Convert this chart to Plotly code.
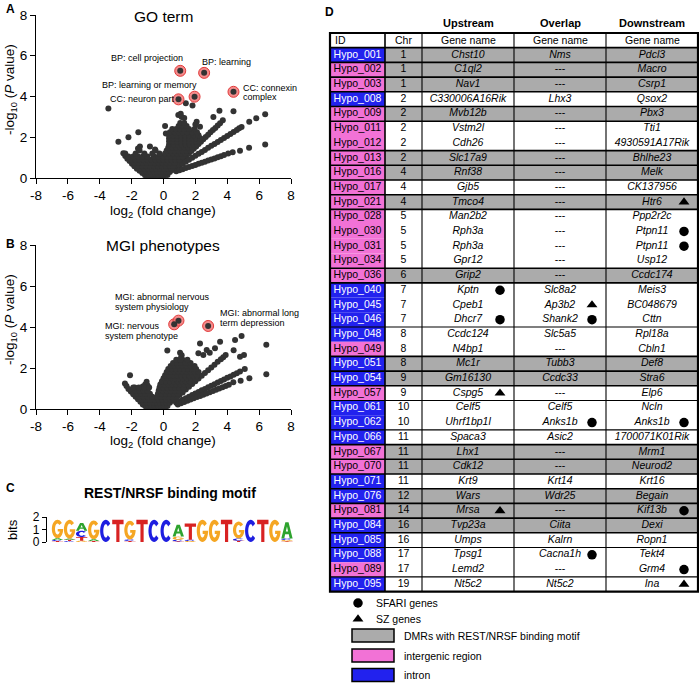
import math
import plotly.graph_objects as go

W, H = 699, 683
FONT = "Arial, 'Liberation Sans', Helvetica, sans-serif"

# ---------------- Panel A: GO term volcano ----------------
go_points = [
    (-3.46, 3.41), (-2.83, 1.78), (-2.2, 2.0), (-1.58, 2.24), (0.1, 2.55), (0.15, 2.18),
    (1.4, 3.67), (1.82, 3.56), (3.51, 3.3), (4.39, 3.27), (3.13, 3.0), (6.38, 3.13),
    (5.82, 2.93), (5.38, 2.76), (6.38, 1.64), (5.37, 1.49), (4.8, 1.34), (4.34, 1.26),
    (0.93, 3.09), (1.08, 3.15), (1.14, 3.0), (1.3, 2.95), (2.08, 2.76), (2.29, 2.52),
    (2.0, 2.62), (-1.48, 1.54), (-0.85, 1.54), (-0.53, 1.4), (-1.6, 1.45),
    (-2.52, 1.21), (-2.4, 1.08), (-2.27, 0.95), (-2.13, 0.83), (-1.98, 0.7), (-1.83, 0.58),
    (-1.67, 0.46), (-1.5, 0.35), (-1.33, 0.24), (-1.16, 0.14),
    (0.55, 0.42), (0.7, 0.53), (0.85, 0.65), (1.0, 0.76), (1.15, 0.87), (1.3, 0.99),
    (1.45, 1.1), (1.6, 1.21), (1.75, 1.33), (1.9, 1.44), (2.05, 1.55), (2.2, 1.67),
    (2.35, 1.78), (2.5, 1.9), (2.65, 2.01), (2.8, 2.12), (2.95, 2.24), (3.1, 2.35),
    (3.25, 2.46), (3.4, 2.58), (3.55, 2.69), (3.72, 2.83),
    (0.6, 0.4), (0.8, 0.5), (1.0, 0.6), (1.2, 0.7), (1.4, 0.8), (1.6, 0.9), (1.8, 0.99),
    (2.0, 1.09), (2.2, 1.19), (2.4, 1.28), (2.6, 1.38), (2.8, 1.48), (3.0, 1.58),
    (3.2, 1.67), (3.4, 1.77), (3.6, 1.87), (3.8, 1.96), (4.0, 2.06), (4.2, 2.16),
    (4.4, 2.26), (4.6, 2.36), (4.75, 2.44), (4.9, 2.5),
    (0.8, 0.33), (1.0, 0.38), (1.2, 0.43), (1.4, 0.49), (1.6, 0.54), (1.8, 0.59),
    (2.0, 0.64), (2.2, 0.7), (2.4, 0.75), (2.6, 0.8), (2.8, 0.86), (3.0, 0.91),
    (3.2, 0.96), (3.4, 1.02), (3.6, 1.07), (3.8, 1.13), (4.06, 1.2),
]
go_blob_rows = [
    (0.03, [-1.0, -0.8, -0.6, -0.4, -0.2, 0.0]),
    (0.15, [-1.1, -0.9, -0.7, -0.5, -0.3, -0.1, 0.1, 0.25]),
    (0.3, [-1.25, -1.05, -0.85, -0.6, -0.4, -0.2, 0.0, 0.2, 0.4]),
    (0.45, [-1.4, -1.2, -0.95, -0.7, -0.45, -0.2, 0.05, 0.3, 0.5]),
    (0.6, [-1.6, -1.35, -1.1, -0.85, -0.6, -0.35, -0.1, 0.15, 0.4, 0.6]),
    (0.75, [-1.8, -1.55, -1.3, -1.05, -0.8, -0.55, -0.3, -0.05, 0.2, 0.45, 0.7]),
    (0.9, [-2.0, -1.75, -1.5, -1.25, -1.0, -0.75, -0.5, -0.25, 0.0, 0.25, 0.5, 0.75, 1.0]),
    (1.05, [-2.2, -1.9, -1.6, -1.3, -1.0, -0.6, -0.3, 0.0, 0.25, 0.5, 0.75, 1.0, 1.2]),
    (1.2, [-2.4, -1.75, -1.2, -0.7, -0.25, 0.1, 0.35, 0.6, 0.85, 1.1, 1.35]),
    (1.35, [-1.5, -0.5, 0.2, 0.45, 0.7, 0.95, 1.2, 1.45, 1.7]),
    (1.5, [0.3, 0.55, 0.8, 1.05, 1.3, 1.55, 1.8]),
    (1.65, [0.35, 0.65, 0.9, 1.15, 1.4, 1.65, 1.9, 2.1]),
    (1.8, [0.35, 0.6, 0.85, 1.1, 1.35, 1.6, 1.85, 2.05, 2.25]),
    (1.95, [0.35, 0.6, 0.85, 1.1, 1.35, 1.6, 1.85, 2.05, 2.3]),
    (2.1, [0.35, 0.6, 0.85, 1.1, 1.35, 1.6, 1.9, 2.2]),
    (2.25, [0.4, 0.7, 0.95, 1.2, 1.5, 1.8, 2.1]),
    (2.4, [0.55, 0.8, 1.05, 1.3, 1.6, 1.95]),
    (2.55, [0.95, 1.2, 1.45]),
    (2.7, [1.05, 1.3]),
]
go_hl_x = [1.05, 2.55, 1.95, 0.94, 4.39]
go_hl_y = [5.26, 5.16, 3.99, 3.86, 4.23]

# ---------------- Panel B: MGI phenotypes volcano ----------------
mgi_points = [
    (-2.1, 1.65), (0.24, 2.85), (2.29, 3.2), (3.55, 3.28), (4.49, 3.37), (4.9, 3.56),
    (6.45, 3.13), (3.23, 2.96), (2.71, 2.88), (2.19, 2.72), (2.5, 2.63), (4.4, 2.87),
    (4.8, 2.55), (5.05, 2.63), (6.45, 1.69), (5.39, 1.5), (4.84, 1.38), (4.38, 1.3),
    (1.04, 2.75), (1.14, 2.62), (1.1, 2.5), (1.2, 2.4), (2.9, 2.75),
    (-2.42, 1.25), (-2.32, 1.12), (-2.2, 0.98), (-2.05, 0.85), (-1.9, 0.72), (-1.75, 0.6),
    (-1.6, 0.47), (-1.45, 0.35), (-1.3, 0.22),
    (-1.06, 1.33), (-1.15, 1.2), (-1.3, 1.1), (-1.0, 1.15), (-1.8, 1.05), (-1.6, 0.9),
    (-1.45, 0.8), (-1.2, 0.95),
    (0.6, 0.4), (0.8, 0.54), (1.0, 0.68), (1.2, 0.81), (1.4, 0.95), (1.6, 1.08),
    (1.8, 1.22), (2.0, 1.35), (2.2, 1.49), (2.4, 1.62), (2.6, 1.76), (2.8, 1.89),
    (3.0, 2.03), (3.2, 2.16), (3.4, 2.3), (3.6, 2.43), (3.75, 2.53), (3.9, 2.63),
    (0.8, 0.3), (1.0, 0.38), (1.2, 0.45), (1.4, 0.53), (1.6, 0.6), (1.8, 0.68),
    (2.0, 0.76), (2.2, 0.83), (2.4, 0.91), (2.6, 0.98), (2.8, 1.06), (3.0, 1.14),
    (3.2, 1.21), (3.4, 1.29), (3.6, 1.36), (3.8, 1.44), (4.0, 1.52), (4.2, 1.59),
    (4.4, 1.67), (4.6, 1.75), (4.8, 1.83), (5.1, 1.95),
    (0.9, 0.22), (1.1, 0.28), (1.3, 0.34), (1.5, 0.4), (1.7, 0.46), (1.9, 0.52),
    (2.1, 0.58), (2.3, 0.64), (2.5, 0.7), (2.7, 0.76), (2.9, 0.82), (3.1, 0.88),
    (3.3, 0.94), (3.5, 1.0), (3.7, 1.06), (3.9, 1.12), (4.1, 1.18),
]
mgi_blob_rows = [
    (0.03, [-1.05, -0.85, -0.65, -0.45, -0.25, -0.05, 0.1]),
    (0.15, [-1.15, -0.95, -0.75, -0.55, -0.35, -0.15, 0.05, 0.25]),
    (0.3, [-1.25, -1.05, -0.85, -0.6, -0.4, -0.2, 0.0, 0.2, 0.4]),
    (0.45, [-1.35, -1.1, -0.85, -0.55, -0.3, -0.05, 0.2, 0.45, 0.65]),
    (0.6, [-1.5, -1.25, -1.0, -0.7, -0.4, -0.15, 0.1, 0.35, 0.6, 0.85]),
    (0.75, [-1.65, -1.4, -1.15, -0.85, -0.35, -0.1, 0.15, 0.4, 0.65, 0.9]),
    (0.9, [-1.75, -1.5, -1.25, -1.0, -0.3, -0.05, 0.2, 0.45, 0.7, 0.95, 1.2]),
    (1.05, [-1.9, -1.55, -1.2, -0.9, -0.25, 0.0, 0.25, 0.5, 0.75, 1.0, 1.25]),
    (1.2, [-0.2, 0.05, 0.3, 0.55, 0.8, 1.05, 1.3, 1.55]),
    (1.35, [-0.1, 0.15, 0.4, 0.65, 0.9, 1.15, 1.4, 1.65]),
    (1.5, [0.0, 0.25, 0.5, 0.75, 1.0, 1.25, 1.5, 1.75, 2.0]),
    (1.65, [0.1, 0.35, 0.6, 0.85, 1.1, 1.35, 1.6, 1.85, 2.1]),
    (1.8, [0.2, 0.45, 0.7, 0.95, 1.2, 1.45, 1.7, 1.95, 2.2]),
    (1.95, [0.3, 0.55, 0.8, 1.05, 1.3, 1.55, 1.8, 2.05]),
    (2.1, [0.45, 0.7, 0.95, 1.2, 1.45, 1.7, 1.95]),
    (2.25, [0.6, 0.85, 1.1, 1.4, 1.7]),
    (2.4, [0.8, 1.05, 1.5]),
]
mgi_hl_x = [0.67, 0.94, 2.8]
mgi_hl_y = [4.13, 4.31, 4.05]

x_tick_vals = [-8, -6, -4, -2, 0, 2, 4, 6, 8]
x_tick_text = ["-8", "-6", "-4", "-2", "0", "2", "4", "6", "8"]
y_tick_vals = [0, 2, 4, 6, 8]

# ---------------- Panel C: REST/NRSF motif (bits, bottom -> top) ----------------
logo_stacks = [
    [("T", 0.07), ("C", 0.09), ("A", 0.14), ("G", 1.48)],
    [("C", 0.07), ("T", 0.1), ("A", 0.1), ("G", 1.5)],
    [("G", 0.1), ("T", 0.3), ("C", 0.5), ("A", 0.62)],
    [("T", 0.08), ("A", 0.14), ("G", 1.5)],
    [("C", 1.78)],
    [("T", 1.78)],
    [("T", 0.08), ("C", 0.12), ("G", 1.5)],
    [("T", 1.78)],
    [("C", 1.78)],
    [("C", 1.78)],
    [("T", 0.06), ("C", 0.12), ("G", 0.25), ("A", 0.95)],
    [("G", 0.08), ("C", 0.1), ("T", 1.3)],
    [("G", 1.78)],
    [("G", 1.78)],
    [("T", 1.78)],
    [("T", 0.1), ("C", 0.18), ("G", 1.35)],
    [("C", 1.78)],
    [("T", 1.78)],
    [("G", 1.78)],
    [("T", 0.06), ("G", 0.1), ("C", 0.12), ("A", 1.3)],
]
logo_tick_vals = [0, 1, 2]

# ---------------- Panel D: table ----------------
ids = ["Hypo_001", "Hypo_002", "Hypo_003", "Hypo_008", "Hypo_009", "Hypo_011", "Hypo_012",
       "Hypo_013", "Hypo_016", "Hypo_017", "Hypo_021", "Hypo_028", "Hypo_030", "Hypo_031",
       "Hypo_034", "Hypo_036", "Hypo_040", "Hypo_045", "Hypo_046", "Hypo_048", "Hypo_049",
       "Hypo_051", "Hypo_054", "Hypo_057", "Hypo_061", "Hypo_062", "Hypo_066", "Hypo_067",
       "Hypo_070", "Hypo_071", "Hypo_076", "Hypo_081", "Hypo_084", "Hypo_085", "Hypo_088",
       "Hypo_089", "Hypo_095"]
chroms = ["1", "1", "1", "2", "2", "2", "2", "2", "4", "4", "4", "5", "5", "5", "5", "6",
          "7", "7", "7", "8", "8", "8", "9", "9", "10", "10", "11", "11", "11", "11", "12",
          "14", "16", "16", "17", "17", "19"]
upstream = ["Chst10", "C1ql2", "Nav1", "C330006A16Rik", "Mvb12b", "Vstm2l", "Cdh26",
            "Slc17a9", "Rnf38", "Gjb5", "Tmco4", "Man2b2", "Rph3a", "Rph3a", "Gpr12", "Grip2",
            "Kptn", "Cpeb1", "Dhcr7", "Ccdc124", "N4bp1", "Mc1r", "Gm16130", "Cspg5", "Celf5",
            "Uhrf1bp1l", "Spaca3", "Lhx1", "Cdk12", "Krt9", "Wars", "Mrsa", "Tvp23a", "Umps",
            "Tpsg1", "Lemd2", "Nt5c2"]
overlap = ["Nms", "---", "---", "Lhx3", "---", "---", "---", "---", "---", "---", "---", "---",
           "---", "---", "---", "---", "Slc8a2", "Ap3b2", "Shank2", "Slc5a5", "---", "Tubb3",
           "Ccdc33", "---", "Celf5", "Anks1b", "Asic2", "---", "---", "Krt14", "Wdr25", "---",
           "Ciita", "Kalrn", "Cacna1h", "---", "Nt5c2"]
downstream = ["Pdcl3", "Macro", "Csrp1", "Qsox2", "Pbx3", "Tti1", "4930591A17Rik", "Bhlhe23",
              "Melk", "CK137956", "Htr6", "Ppp2r2c", "Ptpn11", "Ptpn11", "Usp12", "Ccdc174",
              "Meis3", "BC048679", "Cttn", "Rpl18a", "Cbln1", "Def8", "Stra6", "Elp6", "Ncln",
              "Anks1b", "1700071K01Rik", "Mrm1", "Neurod2", "Krt16", "Begain", "Kif13b", "Dexi",
              "Ropn1", "Tekt4", "Grm4", "Ina"]
region = ["intron", "intergenic", "intergenic", "intron", "intergenic", "intergenic",
          "intergenic", "intergenic", "intergenic", "intergenic", "intergenic", "intergenic",
          "intergenic", "intergenic", "intergenic", "intergenic", "intron", "intron", "intron",
          "intron", "intergenic", "intron", "intron", "intergenic", "intron", "intron", "intron",
          "intergenic", "intergenic", "intron", "intron", "intergenic", "intron", "intron",
          "intron", "intergenic", "intron"]
rest_motif = [1, 1, 1, 0, 1, 0, 0, 1, 1, 0, 1, 0, 0, 0, 0, 1, 0, 0, 0, 0, 0, 1, 1, 0, 0, 0, 0,
              1, 1, 0, 1, 1, 1, 0, 0, 0, 0]
row_group = [1, 2, 3, 4, 5, 6, 6, 7, 8, 9, 10, 11, 11, 11, 11, 12, 13, 13, 13, 14, 14, 15, 16,
             17, 18, 18, 19, 20, 21, 22, 23, 24, 25, 26, 27, 27, 28]
# "S" = SFARI gene, "Z" = SZ gene
up_mark = [""] * 16 + ["S", "", "S"] + [""] * 4 + ["Z"] + [""] * 7 + ["Z"] + [""] * 5
ov_mark = [""] * 17 + ["Z", "S"] + [""] * 6 + ["S"] + [""] * 8 + ["S", "", ""]
dn_mark = ([""] * 10 + ["Z", "", "S", "S"] + [""] * 11 + ["S"] + [""] * 5 + ["S"] +
           [""] * 3 + ["S", "Z"])
legend_items = ["SFARI genes", "SZ genes", "DMRs with REST/NRSF binding motif",
                "intergenic region", "intron"]

# ---------------- styles ----------------
DOT = "#333333"
BLUE = "#2222EE"
PINK = "#F272D6"
GRAY = "#ABABAB"
LETTER_COL = {"A": "#2EA32E", "C": "#1E1EE0", "G": "#F5A623", "T": "#D82222"}


def px(x):
    return x / W


def py(y):
    return 1 - y / H


fig = go.Figure()

go_x = [p[0] for p in go_points] + [x for y, xs in go_blob_rows for x in xs]
go_y = [p[1] for p in go_points] + [y for y, xs in go_blob_rows for x in xs]
mgi_x = [p[0] for p in mgi_points] + [x for y, xs in mgi_blob_rows for x in xs]
mgi_y = [p[1] for p in mgi_points] + [y for y, xs in mgi_blob_rows for x in xs]

for xs, ys, hx, hy, xa, ya in [(go_x, go_y, go_hl_x, go_hl_y, "x", "y"),
                               (mgi_x, mgi_y, mgi_hl_x, mgi_hl_y, "x2", "y2")]:
    fig.add_trace(go.Scatter(x=xs, y=ys, mode="markers", xaxis=xa, yaxis=ya,
                             marker=dict(size=6, color=DOT), hoverinfo="skip", showlegend=False))
    fig.add_trace(go.Scatter(x=hx, y=hy, mode="markers", xaxis=xa, yaxis=ya,
                             marker=dict(size=11, color="rgba(240,110,110,0.8)",
                                         line=dict(color="#E23A3A", width=1)),
                             hoverinfo="skip", showlegend=False))
    fig.add_trace(go.Scatter(x=hx, y=hy, mode="markers", xaxis=xa, yaxis=ya,
                             marker=dict(size=6, color=DOT), hoverinfo="skip", showlegend=False))

axis_common = dict(showline=True, linecolor="black", linewidth=1.2, ticks="outside", ticklen=5,
                   tickwidth=1.2, tickcolor="black", showgrid=False, zeroline=False,
                   automargin=False,
                   tickfont=dict(size=13.5, color="black", family=FONT), fixedrange=True)
fig.update_layout(
    template="none",
    xaxis=dict(domain=[px(36), px(291)], range=[-8, 8], tickvals=x_tick_vals,
               ticktext=x_tick_text, anchor="y", **axis_common),
    yaxis=dict(domain=[py(178), py(15)], range=[0, 8], tickvals=y_tick_vals, anchor="x",
               **axis_common),
    xaxis2=dict(domain=[px(36), px(291)], range=[-8, 8], tickvals=x_tick_vals,
                ticktext=x_tick_text, anchor="y2", **axis_common),
    yaxis2=dict(domain=[py(409), py(245)], range=[0, 8], tickvals=y_tick_vals, anchor="x2",
                **axis_common),
    xaxis3=dict(domain=[px(47), px(293)], range=[0.13, 20.5], visible=False, anchor="y3",
                automargin=False, fixedrange=True),
    yaxis3=dict(domain=[py(542), py(517)], range=[0, 2], tickvals=logo_tick_vals, anchor="x3",
                showline=True, linecolor="black", linewidth=1.2, ticks="outside", ticklen=4,
                tickcolor="black", showgrid=False, zeroline=False, automargin=False,
                tickfont=dict(size=12, color="black", family=FONT), fixedrange=True),
    xaxis4=dict(domain=[px(320), 1], range=[320, 699], visible=False, anchor="y4",
                automargin=False, fixedrange=True),
    yaxis4=dict(domain=[0, 1], range=[683, 0], visible=False, anchor="x4", automargin=False,
                fixedrange=True),
)

ann = []
shapes = []


def text(x, y, s, size, xanchor="center", bold=False, rot=0, xref="paper", yref="paper", color="black"):
    if bold:
        s = "<b>" + s + "</b>"
    ann.append(dict(x=x, y=y, xref=xref, yref=yref, text=s, showarrow=False, xanchor=xanchor,
                    yanchor="middle", textangle=rot,
                    font=dict(size=size, color=color, family=FONT)))


# panel labels and titles
text(px(4), py(9), "A", 12, "left", bold=True)
text(px(4), py(244), "B", 12, "left", bold=True)
text(px(4), py(488), "C", 12, "left", bold=True)
text(px(163), py(16), "GO term", 15.5)
text(px(163), py(245), "MGI phenotypes", 15.5)
for yy in (211, 441):
    text(px(163), py(yy), "log<sub>2</sub> (fold change)", 13.5)
for yy in (90, 320):
    text(px(10), py(yy), "-log<sub>10</sub> (<i>P</i> value)", 13.5, rot=-90)

# highlight labels (A)
text(px(146.5), py(58), "BP: cell projection", 9)
text(px(200), py(62), "BP: learning", 9, "left")
text(px(100), py(85), "BP: learning or memory", 9, "left")
text(px(108), py(99.5), "CC: neuron part", 9, "left")
text(px(241), py(87.5), "CC: connexin", 9, "left")
text(px(241), py(97), "complex", 9, "left")
# highlight labels (B)
text(px(113), py(297), "MGI: abnormal nervous", 9, "left")
text(px(113), py(306.5), "system physiology", 9, "left")
text(px(103), py(326), "MGI: nervous", 9, "left")
text(px(103), py(335.5), "system phenotype", 9, "left")
text(px(218), py(313), "MGI: abnormal long", 9, "left")
text(px(218), py(322.5), "term depression", 9, "left")

# panel C
text(px(170), py(493), "REST/NRSF binding motif", 14, bold=True)
text(px(12), py(530), "bits", 13, rot=-90)


def glyph_polys(letter):
    def ell(a, rx, ry):
        r = math.radians(a)
        return (0.5 + rx * math.cos(r), 0.5 + ry * math.sin(r))
    if letter == "T":
        return [[(0, 1), (1, 1), (1, 0.8), (0.64, 0.8), (0.64, 0), (0.36, 0), (0.36, 0.8), (0, 0.8)]]
    if letter == "A":
        return [[(0, 0), (0.36, 1), (0.64, 1), (1, 0), (0.74, 0), (0.66, 0.26), (0.34, 0.26), (0.26, 0)],
                [(0.4, 0.43), (0.6, 0.43), (0.5, 0.74)]]
    if letter == "C":
        outer = [ell(a, 0.5, 0.5) for a in range(40, 321, 10)]
        inner = [ell(a, 0.22, 0.3) for a in range(320, 39, -10)]
        return [outer + inner]
    outer = [ell(a, 0.5, 0.5) for a in range(40, 361, 10)]
    bar = [(0.52, 0.5), (0.52, 0.36), (0.7, 0.36)]
    inner = [ell(a, 0.22, 0.3) for a in range(335, 39, -10)]
    return [outer + bar + inner]


for i, stack in enumerate(logo_stacks):
    pos = i + 1
    x0, x1 = pos - 0.47, pos + 0.47
    base = 0.0
    for letter, h in stack:
        y0, y1 = base, base + h
        parts = []
        for poly in glyph_polys(letter):
            pts = ["%.4f,%.4f" % (x0 + u * (x1 - x0), y0 + v * (y1 - y0)) for u, v in poly]
            parts.append("M" + " L".join(pts) + " Z")
        shapes.append(dict(type="path", path=" ".join(parts), xref="x3", yref="y3",
                           fillcolor=LETTER_COL[letter], line=dict(width=0), fillrule="evenodd",
                           layer="above"))
        base = y1

# panel D table geometry
TOP, ROW_H = 33.0, 14.7
COLX = [330, 385, 422, 514, 606, 698]
n = len(ids)
bottom = TOP + ROW_H * (n + 1)


def row_top(i):
    return TOP + ROW_H * (i + 1)


for i in range(n):
    t, b = row_top(i), row_top(i) + ROW_H
    shapes.append(dict(type="rect", xref="x4", yref="y4", x0=COLX[0], x1=COLX[1], y0=t, y1=b,
                       fillcolor=BLUE if region[i] == "intron" else PINK, line=dict(width=0),
                       layer="below"))
    if rest_motif[i]:
        shapes.append(dict(type="rect", xref="x4", yref="y4", x0=COLX[1], x1=COLX[5], y0=t, y1=b,
                           fillcolor=GRAY, line=dict(width=0), layer="below"))

shapes.append(dict(type="line", xref="x4", yref="y4", x0=COLX[0], x1=COLX[5], y0=row_top(0),
                   y1=row_top(0), line=dict(color="black", width=1.8)))
for i in range(n - 1):
    if row_group[i] != row_group[i + 1]:
        yy = row_top(i + 1)
        w = 1.6 if (rest_motif[i] or rest_motif[i + 1]) else 1.1
        shapes.append(dict(type="line", xref="x4", yref="y4", x0=COLX[0], x1=COLX[5], y0=yy,
                           y1=yy, line=dict(color="black", width=w)))
for k, cx in enumerate(COLX[1:-1]):
    shapes.append(dict(type="line", xref="x4", yref="y4", x0=cx, x1=cx, y0=TOP, y1=bottom,
                       line=dict(color="black", width=1.6 if k == 0 else 1.1)))
shapes.append(dict(type="rect", xref="x4", yref="y4", x0=COLX[0], x1=COLX[5], y0=TOP, y1=bottom,
                   line=dict(color="black", width=2.2)))

col_cx = [(COLX[k] + COLX[k + 1]) / 2 for k in range(5)]
row_cy = [row_top(i) + ROW_H / 2 for i in range(n)]
fig.add_trace(go.Scatter(x=[col_cx[0]] * n, y=row_cy, text=ids, mode="text", xaxis="x4",
                         yaxis="y4", textposition="middle center", cliponaxis=False,
                         textfont=dict(size=10.5, family=FONT,
                                       color=["white" if r == "intron" else "black" for r in region]),
                         hoverinfo="skip", showlegend=False))
fig.add_trace(go.Scatter(x=[col_cx[1]] * n, y=row_cy, text=chroms, mode="text", xaxis="x4",
                         yaxis="y4", textfont=dict(size=10.5, family=FONT, color="black"),
                         cliponaxis=False, hoverinfo="skip", showlegend=False))
for k, col in zip((2, 3, 4), (upstream, overlap, downstream)):
    fig.add_trace(go.Scatter(x=[col_cx[k]] * n, y=row_cy,
                             text=[g if g == "---" else "<i>" + g + "</i>" for g in col],
                             mode="text", xaxis="x4", yaxis="y4", cliponaxis=False,
                             textfont=dict(size=10.5, family=FONT, color="black"),
                             hoverinfo="skip", showlegend=False))

mx, my, ms = [], [], []
for k, marks in zip((2, 3, 4), (up_mark, ov_mark, dn_mark)):
    for i, m in enumerate(marks):
        if m:
            mx.append(COLX[k + 1] - 14)
            my.append(row_cy[i])
            ms.append("circle" if m == "S" else "triangle-up")
fig.add_trace(go.Scatter(x=mx, y=my, mode="markers", xaxis="x4", yaxis="y4", cliponaxis=False,
                         marker=dict(size=9.5, color="black", symbol=ms),
                         hoverinfo="skip", showlegend=False))

hy = TOP + ROW_H / 2
text(333, hy, "ID", 10.5, "left", xref="x4", yref="y4")
text(col_cx[1], hy, "Chr", 10.5, xref="x4", yref="y4")
for k in (2, 3, 4):
    text(col_cx[k], hy, "Gene name", 10.5, xref="x4", yref="y4")
for k, s in zip((2, 3, 4), ("Upstream", "Overlap", "Downstream")):
    text(col_cx[k], 23, s, 11, bold=True, xref="x4", yref="y4")
text(323, 12, "D", 12, "left", bold=True, xref="x4", yref="y4")

fig.add_trace(go.Scatter(x=[358, 358], y=[603, 619], mode="markers", xaxis="x4", yaxis="y4",
                         marker=dict(size=9.5, color="black", symbol=["circle", "triangle-up"]),
                         cliponaxis=False, hoverinfo="skip", showlegend=False))
text(374, 603, legend_items[0], 10.5, "left", xref="x4", yref="y4")
text(374, 619, legend_items[1], 10.5, "left", xref="x4", yref="y4")
for lab, col, yc in zip(legend_items[2:], (GRAY, PINK, BLUE), (635.5, 655.5, 675)):
    shapes.append(dict(type="rect", xref="x4", yref="y4", x0=352, x1=394, y0=yc - 6.5,
                       y1=yc + 6.5, fillcolor=col, line=dict(color="black", width=1.5)))
    text(402, yc, lab, 10.5, "left", xref="x4", yref="y4")

fig.update_layout(width=W, height=H, margin=dict(l=0, r=0, t=0, b=0, pad=0, autoexpand=False),
                  paper_bgcolor="white", plot_bgcolor="white", annotations=ann, shapes=shapes,
                  showlegend=False, font=dict(family=FONT, color="black"))
fig.write_html("out.html", config={"displayModeBar": False},
               post_script="document.body.style.margin='0px';document.body.style.overflow='hidden';")
